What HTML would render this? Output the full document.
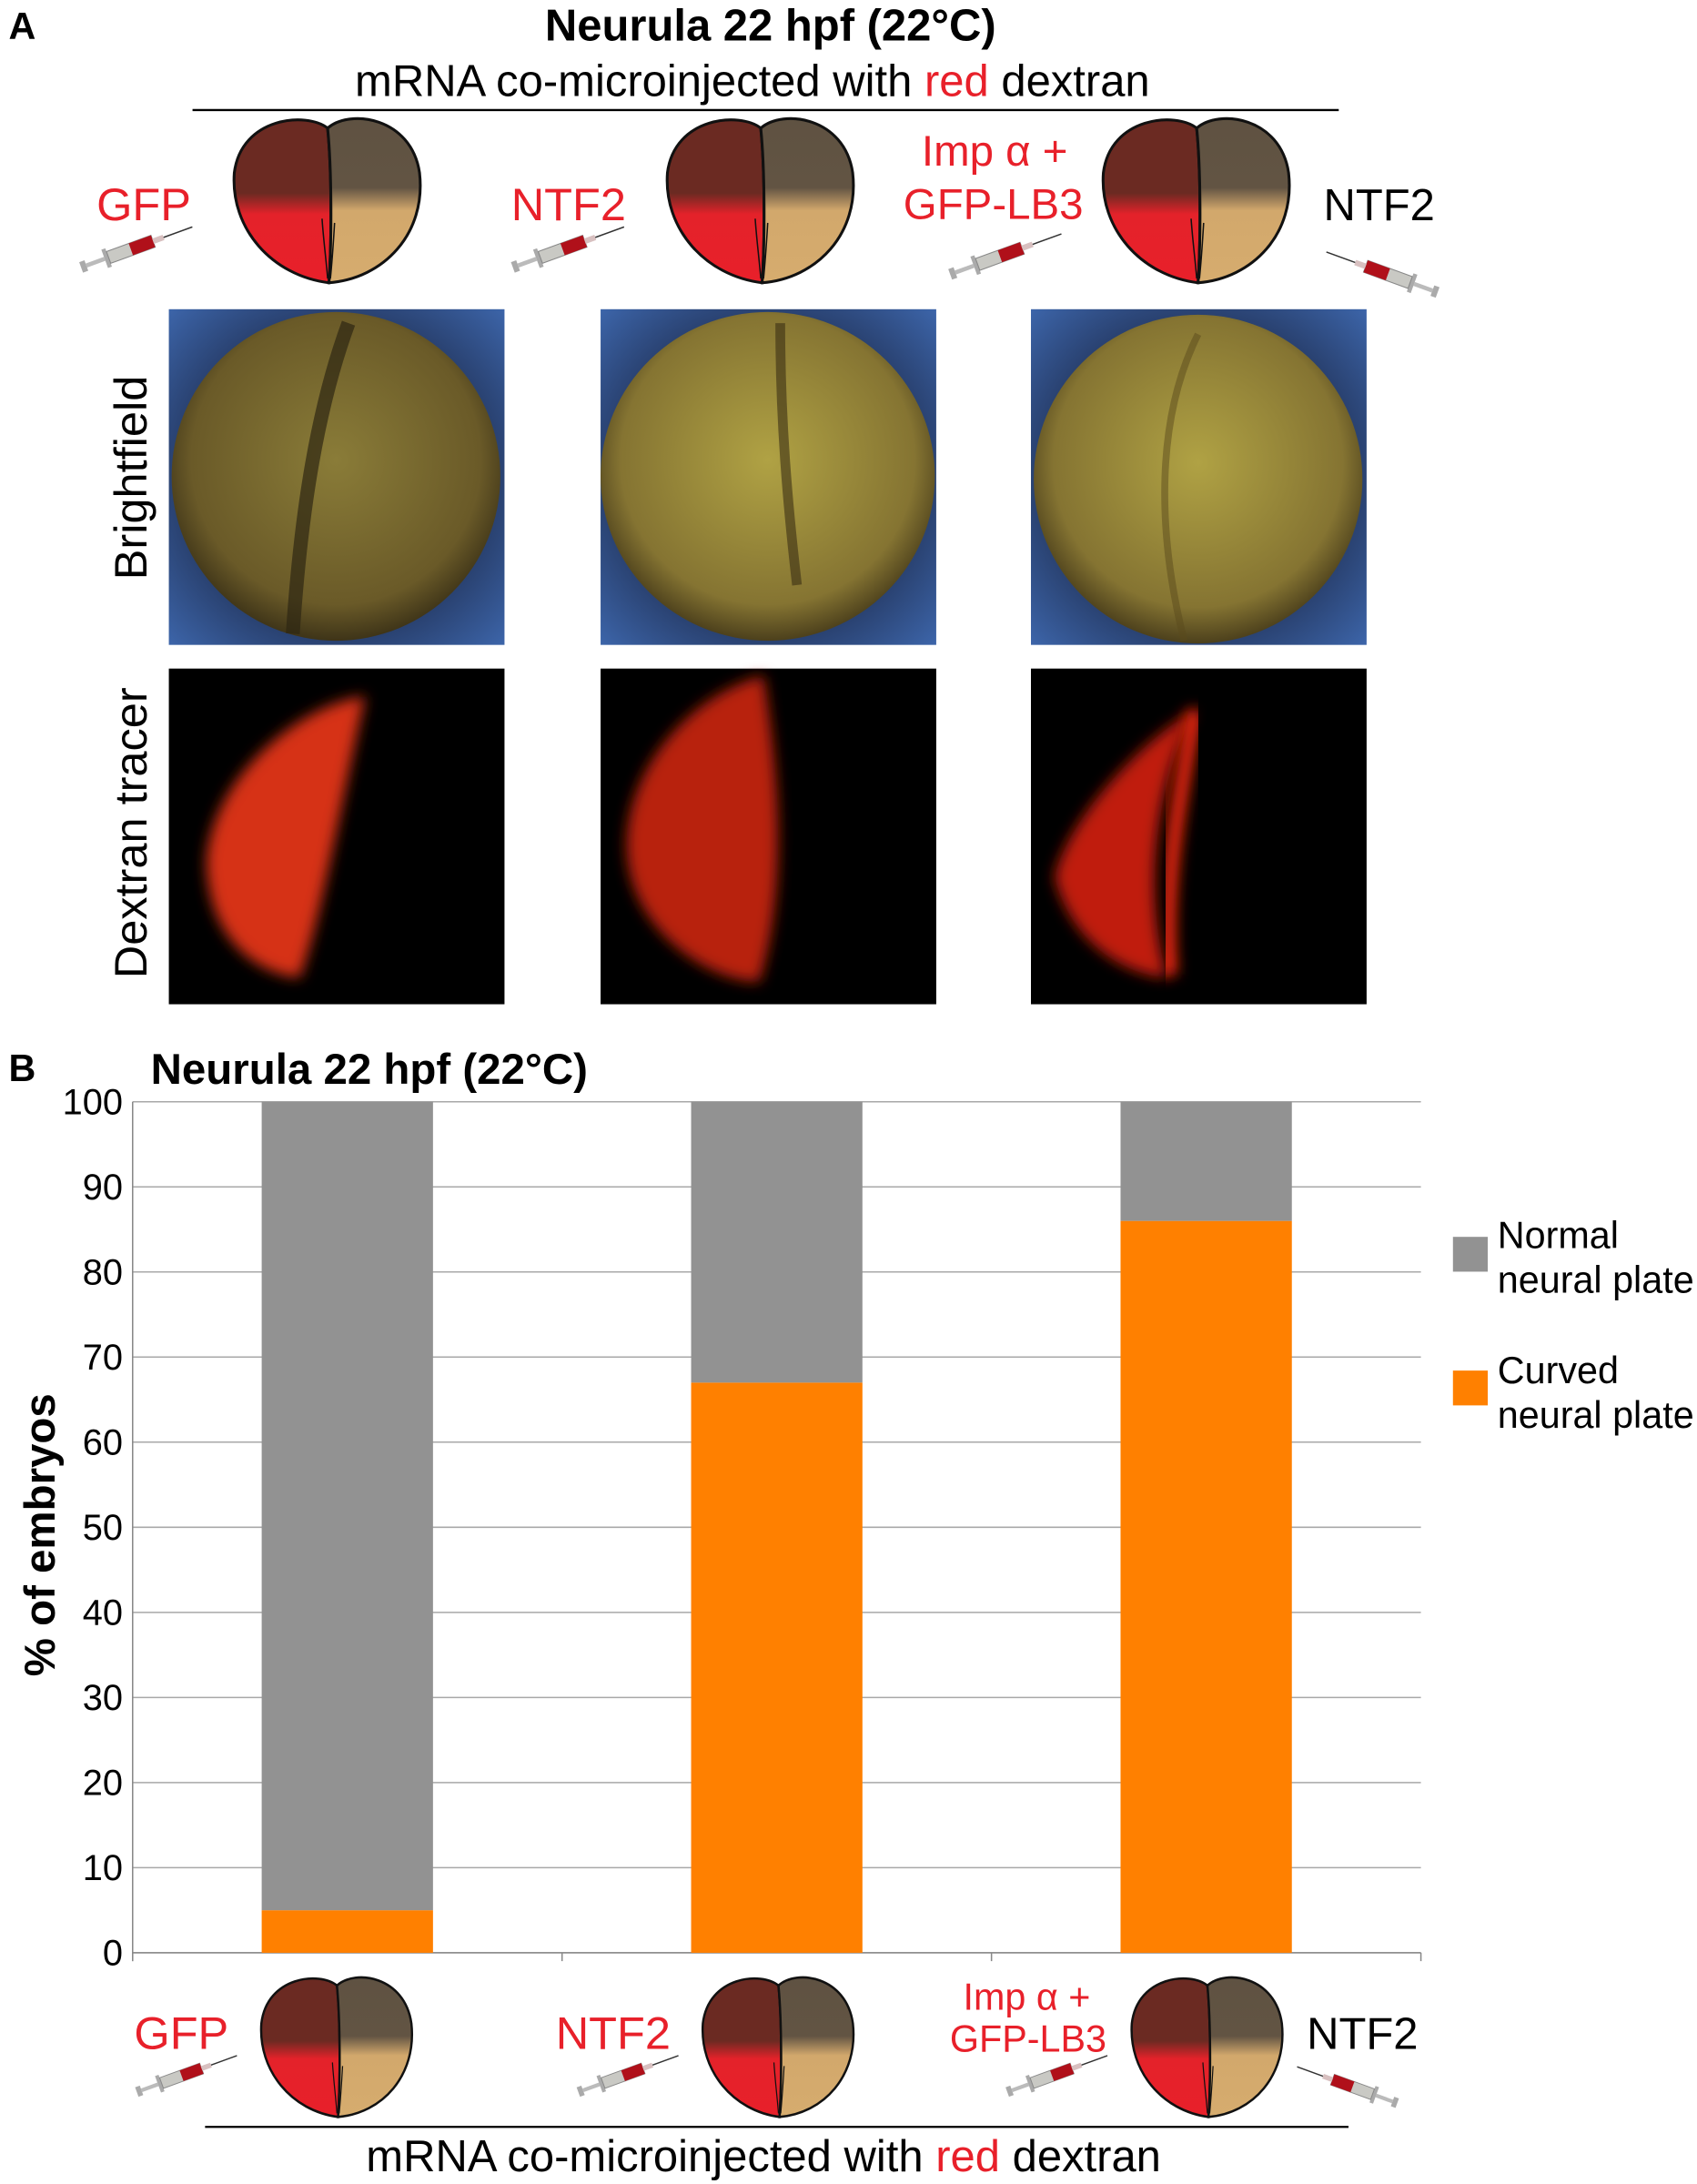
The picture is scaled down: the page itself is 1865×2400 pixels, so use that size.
<!DOCTYPE html>
<html><head><meta charset="utf-8"><style>
html,body{margin:0;padding:0;background:#fff;}
svg{display:block;font-family:"Liberation Sans",Arial,sans-serif;}
</style></head><body>
<svg id="fig" width="1865" height="2400" viewBox="0 0 1218 1568" xmlns="http://www.w3.org/2000/svg">
<defs>
<linearGradient id="gl" x1="0" y1="0" x2="0" y2="1"><stop offset="0" stop-color="#6b2a22"/><stop offset="0.45" stop-color="#6b2a22"/><stop offset="0.58" stop-color="#e4222a"/><stop offset="1" stop-color="#e8202a"/></linearGradient>
<linearGradient id="gr" x1="0" y1="0" x2="0" y2="1"><stop offset="0" stop-color="#5f5242"/><stop offset="0.42" stop-color="#625443"/><stop offset="0.56" stop-color="#d2a86c"/><stop offset="1" stop-color="#d6ac6e"/></linearGradient>
<radialGradient id="bf1" cx="0.5" cy="0.45" r="0.55"><stop offset="0" stop-color="#8a7c38"/><stop offset="0.8" stop-color="#6a5a28"/><stop offset="1" stop-color="#3e3418"/></radialGradient>
<radialGradient id="bf2" cx="0.5" cy="0.45" r="0.55"><stop offset="0" stop-color="#b0a244"/><stop offset="0.8" stop-color="#857432"/><stop offset="1" stop-color="#4c401c"/></radialGradient>
<radialGradient id="blue" cx="0.5" cy="0.5" r="0.7"><stop offset="0.5" stop-color="#1e2c4e"/><stop offset="1" stop-color="#3c64a8"/></radialGradient>
<filter id="blur"><feGaussianBlur stdDeviation="5"/></filter>
<g id="embryo">
<path d="M70,10 C55,-2 8,2 3,42 C0,82 30,116 71,121 C73,90 73,40 70,10 Z" fill="url(#gl)" stroke="#111" stroke-width="2"/>
<path d="M70,10 C86,-4 130,2 136,42 C141,86 110,118 71,121 C73,90 73,40 70,10 Z" fill="url(#gr)" stroke="#111" stroke-width="2"/>
<path d="M66,75 C67,90 69,105 70,118 M75,78 C74,95 73,108 72,118" fill="none" stroke="#111" stroke-width="1"/>
</g>
<g id="syr">
<rect x="0" y="-4" width="4" height="8" fill="#aaa"/>
<rect x="4" y="-1.5" width="14" height="3" fill="#bbb"/>
<rect x="18" y="-7" width="3" height="14" fill="#aaa"/>
<rect x="21" y="-4.5" width="34" height="9" fill="#c9c9c4" stroke="#888" stroke-width="0.7"/>
<rect x="38" y="-4.5" width="17" height="9" fill="#b0101a"/>
<rect x="55" y="-2" width="8" height="4" fill="#d8c0c0"/>
<line x1="63" y1="0" x2="85" y2="0" stroke="#333" stroke-width="1"/>
</g>
</defs>

<text x="6" y="28" font-size="27" font-weight="bold">A</text>
<text x="553" y="29" font-size="32" font-weight="bold" text-anchor="middle">Neurula 22 hpf (22°C)</text>
<text x="540" y="69" font-size="32" text-anchor="middle">mRNA co-microinjected with <tspan fill="#e8202a">red</tspan> dextran</text>
<line x1="138" y1="79" x2="961" y2="79" stroke="#000" stroke-width="1.5"/>

<g><use href="#embryo" transform="translate(165,82)"/><use href="#syr" transform="translate(58,192) rotate(-20)"/></g>
<g><use href="#embryo" transform="translate(476,82)"/><use href="#syr" transform="translate(368,192) rotate(-20)"/></g>
<g><use href="#embryo" transform="translate(789,82)"/><use href="#syr" transform="translate(682,197) rotate(-20)"/><use href="#syr" transform="translate(1032,210) rotate(200)"/></g>
<text x="103" y="158" font-size="33" fill="#e8202a" text-anchor="middle">GFP</text>
<text x="408" y="158" font-size="33" fill="#e8202a" text-anchor="middle">NTF2</text>
<text x="714" y="119" font-size="31" fill="#e8202a" text-anchor="middle">Imp α +</text>
<text x="713" y="157" font-size="31" fill="#e8202a" text-anchor="middle">GFP-LB3</text>
<text x="990" y="158" font-size="32" text-anchor="middle">NTF2</text>

<text transform="translate(105,343) rotate(-90)" font-size="33" text-anchor="middle">Brightfield</text>
<text transform="translate(105,598) rotate(-90)" font-size="33" text-anchor="middle">Dextran tracer</text>

<g>
<rect x="121" y="222" width="241" height="241" fill="url(#blue)"/>
<ellipse cx="241" cy="342" rx="118" ry="118" fill="url(#bf1)"/>
<path d="M250,232 C225,300 215,380 210,455" stroke="#2e2612" stroke-width="10" fill="none" opacity="0.7"/>
<rect x="431" y="222" width="241" height="241" fill="url(#blue)"/>
<ellipse cx="551" cy="342" rx="120" ry="118" fill="url(#bf2)"/>
<path d="M560,232 C560,300 565,360 572,420" stroke="#3a2e14" stroke-width="7" fill="none" opacity="0.6"/>
<rect x="740" y="222" width="241" height="241" fill="url(#blue)"/>
<ellipse cx="860" cy="344" rx="118" ry="118" fill="url(#bf2)"/>
<path d="M860,240 C830,300 830,380 850,460" stroke="#5a4a1c" stroke-width="5" fill="none" opacity="0.5"/>
</g>
<g>
<rect x="121" y="480" width="241" height="241" fill="#000"/>
<path d="M262,500 C215,505 150,560 148,620 C150,680 190,700 215,702 C230,660 240,600 262,500 Z" fill="#d63214" filter="url(#blur)"/>
<rect x="431" y="480" width="241" height="241" fill="#000"/>
<path d="M548,485 C490,500 445,560 450,615 C455,670 510,705 545,705 C565,640 560,560 548,485 Z" fill="#b82210" filter="url(#blur)"/>
<rect x="740" y="480" width="241" height="241" fill="#000"/>
<path d="M858,510 C820,530 765,590 757,630 C770,680 810,700 838,702 C820,640 830,560 858,510 Z" fill="#c01e10" filter="url(#blur)"/>
<path d="M858,510 C845,580 835,640 840,700" stroke="#ff2a10" stroke-width="10" fill="none" filter="url(#blur)"/>
</g>

<text x="6" y="776" font-size="27" font-weight="bold">B</text>
<text x="108" y="778" font-size="31" font-weight="bold">Neurula 22 hpf (22°C)</text>
<text transform="translate(39,1102) rotate(-90)" font-size="31" font-weight="bold" text-anchor="middle">% of embryos</text>
<g id="chart"></g>

<g>
<rect x="1043" y="888" width="25" height="25" fill="#929292"/>
<text x="1075" y="896" font-size="27">Normal</text>
<text x="1075" y="928" font-size="27">neural plate</text>
<rect x="1043" y="984" width="25" height="25" fill="#ff8000"/>
<text x="1075" y="993" font-size="27">Curved</text>
<text x="1075" y="1025" font-size="27">neural plate</text>
</g>

<g><use href="#embryo" transform="translate(185,1417) scale(0.81,0.85)"/><use href="#syr" transform="translate(98,1502) rotate(-20) scale(0.9)"/></g>
<g><use href="#embryo" transform="translate(502,1417) scale(0.81,0.85)"/><use href="#syr" transform="translate(415,1502) rotate(-20) scale(0.9)"/></g>
<g><use href="#embryo" transform="translate(810,1417) scale(0.81,0.85)"/><use href="#syr" transform="translate(723,1502) rotate(-20) scale(0.9)"/><use href="#syr" transform="translate(1003,1510) rotate(200) scale(0.9)"/></g>
<text x="130" y="1471" font-size="33" fill="#e8202a" text-anchor="middle">GFP</text>
<text x="440" y="1471" font-size="33" fill="#e8202a" text-anchor="middle">NTF2</text>
<text x="737" y="1443" font-size="27" fill="#e8202a" text-anchor="middle">Imp α +</text>
<text x="738" y="1473" font-size="27" fill="#e8202a" text-anchor="middle">GFP-LB3</text>
<text x="978" y="1471" font-size="32" text-anchor="middle">NTF2</text>
<line x1="147" y1="1527" x2="968" y2="1527" stroke="#000" stroke-width="1.5"/>
<text x="548" y="1559" font-size="32" text-anchor="middle">mRNA co-microinjected with <tspan fill="#e8202a">red</tspan> dextran</text>
</svg>
<script>
const categories = ["GFP", "NTF2", "Imp α + GFP-LB3 / NTF2"];
const normalValues = [95, 33, 14];
const curvedValues = [5, 67, 86];
const yTicks = [0, 10, 20, 30, 40, 50, 60, 70, 80, 90, 100];

const NS = "http://www.w3.org/2000/svg";
const g = document.getElementById("chart");
const x0 = 95, x1 = 1020, yTop = 791, yBot = 1402;
function yScale(v) { return yBot - (v / 100) * (yBot - yTop); }
const band = (x1 - x0) / categories.length;
function xCenter(i) { return x0 + band * (i + 0.5); }
const barW = 123;
function mk(tag, attrs) { const e = document.createElementNS(NS, tag); for (const k in attrs) e.setAttribute(k, attrs[k]); g.appendChild(e); return e; }

yTicks.forEach(t => {
  const line = mk("line", {x1: x0, x2: x1, y1: yScale(t), y2: yScale(t), stroke: "#a8a8a8", "stroke-width": 1});
  
  
  const lab = mk("text", {x: 88, y: yScale(t) + 9, "font-size": 26, "text-anchor": "end"});
  lab.textContent = t;
  
  
});
const ax = mk("line", {x1: x0, x2: x0, y1: yTop, y2: yBot + 6, stroke: "#888", "stroke-width": 1});


const bx = mk("line", {x1: x0, x2: x1, y1: yBot, y2: yBot, stroke: "#888", "stroke-width": 1});


for (let i = 0; i <= categories.length; i++) {
  const tk = mk("line", {x1: x0 + band * i, x2: x0 + band * i, y1: yBot, y2: yBot + 6, stroke: "#888"});
  
  
}
categories.forEach((c, i) => {
  const cx = xCenter(i);
  const cr = mk("rect", {x: cx - barW / 2, y: yScale(curvedValues[i]), width: barW, height: yBot - yScale(curvedValues[i]), fill: "#ff8000"});
  
  
  const top = curvedValues[i] + normalValues[i];
  const nr = mk("rect", {x: cx - barW / 2, y: yScale(top), width: barW, height: yScale(curvedValues[i]) - yScale(top), fill: "#929292"});
  
  
});
</script>
</body></html>
